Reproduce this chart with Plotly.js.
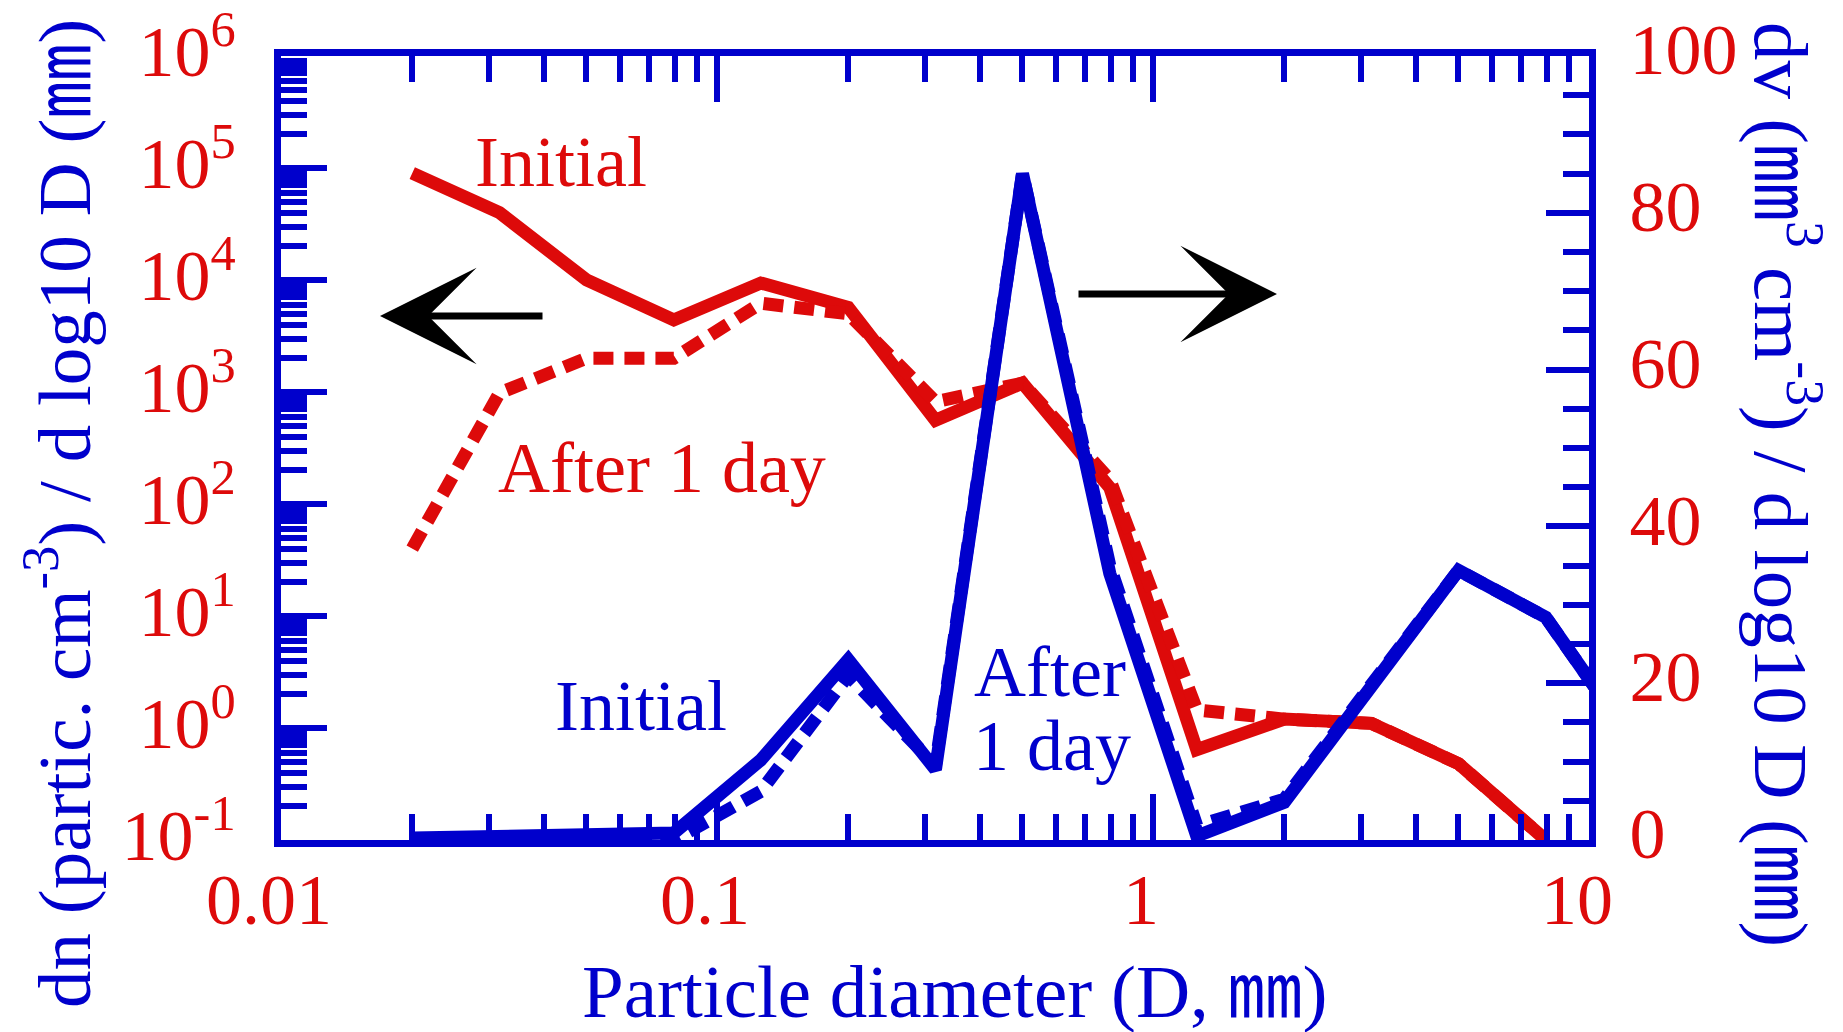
<!DOCTYPE html>
<html>
<head>
<meta charset="utf-8">
<script src="https://cdn.plot.ly/plotly-3.0.1.min.js"></script>
<style>
  html, body { margin: 0; padding: 0; background: #ffffff; }
  #chart { width: 1843px; height: 1032px; }
</style>
</head>
<body>
<div id="chart"></div>
<script>
// ---- data ----
const diameter = [0.02, 0.0317, 0.0502, 0.0796, 0.126, 0.2, 0.317, 0.502, 0.796, 1.26, 2.0, 3.17, 5.02, 7.96];
const diameterV = [0.02, 0.0317, 0.0502, 0.0796, 0.126, 0.2, 0.317, 0.502, 0.796, 1.26, 2.0, 3.17, 5.02, 7.96, 12.6];

const dnInitial = [9.0e4, 4.0e4, 1.0e4, 4.4e3, 9.4e3, 5.7e3, 560, 1.2e3, 140, 0.64, 1.2, 1.1, 0.48, 0.1];
const dnAfter1Day = [40, 980, 2.0e3, 2.0e3, 6.2e3, 5.0e3, 820, 1.2e3, 165, 1.45, 1.2, 1.1, 0.48, 0.1];

const dvInitial = [0.25, 0.4, 0.55, 0.9, 10.2, 23, 9, 85, 34, 0.5, 4.8, 19.8, 34.4, 28.4, 12.6];
const dvAfter1Day = [0, 0, 0, 0, 6.2, 21, 9.5, 85, 35, 1.8, 5.2, 19.8, 34.4, 28.4, 12.6];

const xTickVals = [0.01, 0.1, 1, 10];
const xTickText = ['0.01', '0.1', '1', '10'];
const yTickVals = [0.1, 1, 10, 100, 1000, 10000, 100000, 1000000];
const yTickText = ['10<sup>-1</sup>', '10<sup>0</sup>', '10<sup>1</sup>', '10<sup>2</sup>',
                   '10<sup>3</sup>', '10<sup>4</sup>', '10<sup>5</sup>', '10<sup>6</sup>'];
const y2TickVals = [0, 20, 40, 60, 80, 100];
const y2TickText = ['0', '20', '40', '60', '80', '100'];

// ---- styling ----
const RED = '#dd0a0a';
const BLUE = '#0000cc';
const SERIF = '"Liberation Serif", "Times New Roman", "Noto Sans CJK JP", serif';
const DOT = '20px,11px';
const LW = 13;

// minor tick positions (2..9 in every decade)
function minorLog(lo, hi) {
  const out = [];
  for (let e = lo; e < hi; e++) {
    for (let m = 2; m <= 9; m++) out.push(m * Math.pow(10, e));
  }
  return out;
}

// plot box in pixels (for placing texts)
const L = 281, R = 1589, T = 56, B = 840;
const px = v => (v - L) / (R - L);
const py = v => (B - v) / (B - T);

const traces = [
  { x: diameter, y: dnInitial, type: 'scatter', mode: 'lines', yaxis: 'y',
    line: { color: RED, width: LW }, name: 'dn initial', showlegend: false },
  { x: diameter, y: dnAfter1Day, type: 'scatter', mode: 'lines', yaxis: 'y',
    line: { color: RED, width: LW, dash: DOT }, name: 'dn after 1 day', showlegend: false },
  { x: diameterV, y: dvAfter1Day, type: 'scatter', mode: 'lines', yaxis: 'y2',
    line: { color: BLUE, width: LW, dash: DOT }, name: 'dv after 1 day', showlegend: false },
  { x: diameterV, y: dvInitial, type: 'scatter', mode: 'lines', yaxis: 'y2',
    line: { color: BLUE, width: LW }, name: 'dv initial', showlegend: false }
];

const tickFont = { family: SERIF, size: 72, color: RED };
const textFont = (c) => ({ family: SERIF, size: 72, color: c });
const titleFont = { family: SERIF, size: 75, color: BLUE };

const layout = {
  width: 1843, height: 1032,
  margin: { l: L, r: 1843 - R, t: T, b: 1032 - B, pad: 0 },
  paper_bgcolor: '#ffffff', plot_bgcolor: '#ffffff',
  showlegend: false,
  xaxis: {
    type: 'log', range: [-2, 1],
    showline: true, linecolor: BLUE, linewidth: 7, mirror: 'ticks',
    showgrid: false, zeroline: false,
    ticks: 'inside', ticklen: 46, tickwidth: 6, tickcolor: BLUE,
    tickmode: 'array', tickvals: xTickVals, ticktext: xTickText,
    tickfont: tickFont, ticklabelstandoff: -9, ticklabelshift: -12,
    minor: { tickmode: 'array', tickvals: minorLog(-2, 1), ticks: 'inside',
             ticklen: 26, tickwidth: 6, tickcolor: BLUE, showgrid: false }
  },
  yaxis: {
    type: 'log', range: [-1, 6],
    showline: true, linecolor: BLUE, linewidth: 7, mirror: false,
    showgrid: false, zeroline: false,
    ticks: 'inside', ticklen: 46, tickwidth: 6, tickcolor: BLUE,
    tickmode: 'array', tickvals: yTickVals, ticktext: yTickText,
    tickfont: tickFont, ticklabelstandoff: 24, ticklabelshift: -5,
    minor: { tickmode: 'array', tickvals: minorLog(-1, 6), ticks: 'inside',
             ticklen: 26, tickwidth: 6, tickcolor: BLUE, showgrid: false }
  },
  yaxis2: {
    overlaying: 'y', side: 'right', range: [0, 100],
    showline: true, linecolor: BLUE, linewidth: 7, mirror: false,
    showgrid: false, zeroline: false,
    ticks: 'inside', ticklen: 43, tickwidth: 6, tickcolor: BLUE,
    tickmode: 'array', tickvals: y2TickVals, ticktext: y2TickText,
    tickfont: tickFont, ticklabelstandoff: 19, ticklabelshift: -7,
    minor: { dtick: 5, ticks: 'inside', ticklen: 26, tickwidth: 6, tickcolor: BLUE, showgrid: false }
  },
  annotations: [
    // series labels
    { xref: 'paper', yref: 'paper', x: px(561), y: py(162), text: 'Initial',
      showarrow: false, font: textFont(RED), xanchor: 'center', yanchor: 'middle' },
    { xref: 'paper', yref: 'paper', x: px(662), y: py(468), text: 'After 1 day',
      showarrow: false, font: textFont(RED), xanchor: 'center', yanchor: 'middle' },
    { xref: 'paper', yref: 'paper', x: px(641), y: py(706), text: 'Initial',
      showarrow: false, font: textFont(BLUE), xanchor: 'center', yanchor: 'middle' },
    { xref: 'paper', yref: 'paper', x: px(1050), y: py(672), text: 'After',
      showarrow: false, font: textFont(BLUE), xanchor: 'center', yanchor: 'middle' },
    { xref: 'paper', yref: 'paper', x: px(1052), y: py(746), text: '1 day',
      showarrow: false, font: textFont(BLUE), xanchor: 'center', yanchor: 'middle' },
    // arrows
    { xref: 'paper', yref: 'paper', x: px(380), y: py(316), ax: 164, ay: 0, text: '',
      showarrow: true, arrowhead: 3, arrowsize: 2.3, arrowwidth: 7, arrowcolor: '#000000', standoff: 0 },
    { xref: 'paper', yref: 'paper', x: px(1277), y: py(294), ax: -200, ay: 0, text: '',
      showarrow: true, arrowhead: 3, arrowsize: 2.3, arrowwidth: 7, arrowcolor: '#000000', standoff: 0 },
    // axis titles
    { xref: 'paper', yref: 'paper', x: px(955), y: py(991),
      text: 'Particle diameter (D, ㎜)', showarrow: false, font: titleFont,
      xanchor: 'center', yanchor: 'middle' },
    { xref: 'paper', yref: 'paper', x: px(58), y: py(514), textangle: -90,
      text: 'dn (partic. cm<sup>-3</sup>) / d log10 D (㎜)', showarrow: false, font: titleFont,
      xanchor: 'center', yanchor: 'middle' },
    { xref: 'paper', yref: 'paper', x: px(1786), y: py(485), textangle: 90,
      text: 'dv (㎜<sup>3</sup> cm<sup>-3</sup>) / d log10 D (㎜)', showarrow: false,
      font: { family: SERIF, size: 77, color: BLUE },
      xanchor: 'center', yanchor: 'middle' }
  ]
};

Plotly.newPlot('chart', traces, layout, { displayModeBar: false, staticPlot: true });
</script>
</body>
</html>
